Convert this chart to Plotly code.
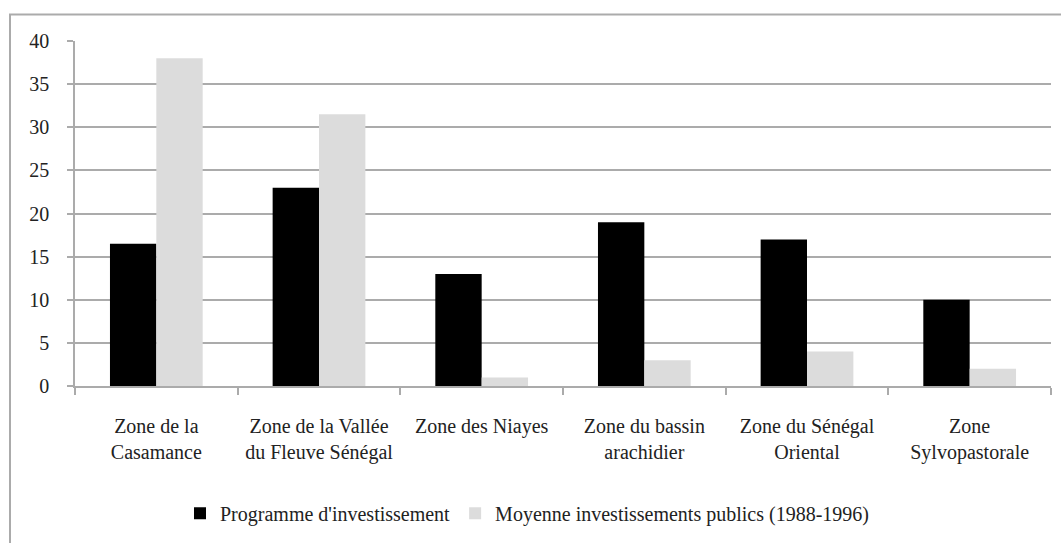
import plotly.graph_objects as go

categories = ["Zone de la<br>Casamance", "Zone de la Vallée<br>du Fleuve Sénégal", "Zone des Niayes",
              "Zone du bassin<br>arachidier", "Zone du Sénégal<br>Oriental", "Zone<br>Sylvopastorale"]
programme = [16.5, 23, 13, 19, 17, 10]
moyenne = [38, 31.5, 1, 3, 4, 2]
series_names = ["Programme d'investissement", "Moyenne investissements publics (1988-1996)"]
y_ticks = [0, 5, 10, 15, 20, 25, 30, 35, 40]

font_family = "Liberation Serif, Times New Roman, serif"
grey = "#ababab"

fig = go.Figure()
fig.add_trace(go.Bar(x=categories, y=programme, name=series_names[0],
                     marker=dict(color="#000000", line=dict(width=0))))
fig.add_trace(go.Bar(x=categories, y=moyenne, name=series_names[1],
                     marker=dict(color="#dcdcdc", line=dict(width=0))))

L, T, PW, PH = 75, 41, 976, 352
fig.update_layout(
    width=1061, height=543,
    margin=dict(l=L, r=1061 - L - PW, t=T, b=543 - T - PH, pad=0),
    paper_bgcolor="white", plot_bgcolor="white",
    font=dict(family=font_family, size=20, color="#222222"),
    barmode="group", bargap=0.43, bargroupgap=0,
    showlegend=True,
    legend=dict(orientation="h", x=(180 - L) / PW, xanchor="left", y=(T + PH - 503) / PH, yanchor="top",
                font=dict(size=20), bgcolor="rgba(0,0,0,0)", borderwidth=0),
    xaxis=dict(tickson="boundaries", ticks="outside", ticklen=7, tickcolor=grey, tickwidth=1.5,
               showline=True, linecolor=grey, linewidth=1.5, showgrid=False,
               tickfont=dict(size=20), ticklabelstandoff=21, automargin=False),
    yaxis=dict(range=[0, 40], tickvals=y_ticks, ticks="outside", ticklen=6, tickcolor=grey, tickwidth=1.5,
               showline=True, linecolor=grey, linewidth=1.5,
               showgrid=True, gridcolor=grey, gridwidth=1.5, zeroline=False,
               tickfont=dict(size=20), ticklabelstandoff=14, automargin=False),
    shapes=[dict(type="rect", xref="paper", yref="paper",
                 x0=(10 - L) / PW, x1=1.2, y0=-0.6, y1=(T + PH - 14) / PH,
                 line=dict(color=grey, width=2), fillcolor="rgba(0,0,0,0)", layer="below")],
)

fig.write_html("out.html", config={"displayModeBar": False},
               post_script="document.body.style.margin='0px';")
